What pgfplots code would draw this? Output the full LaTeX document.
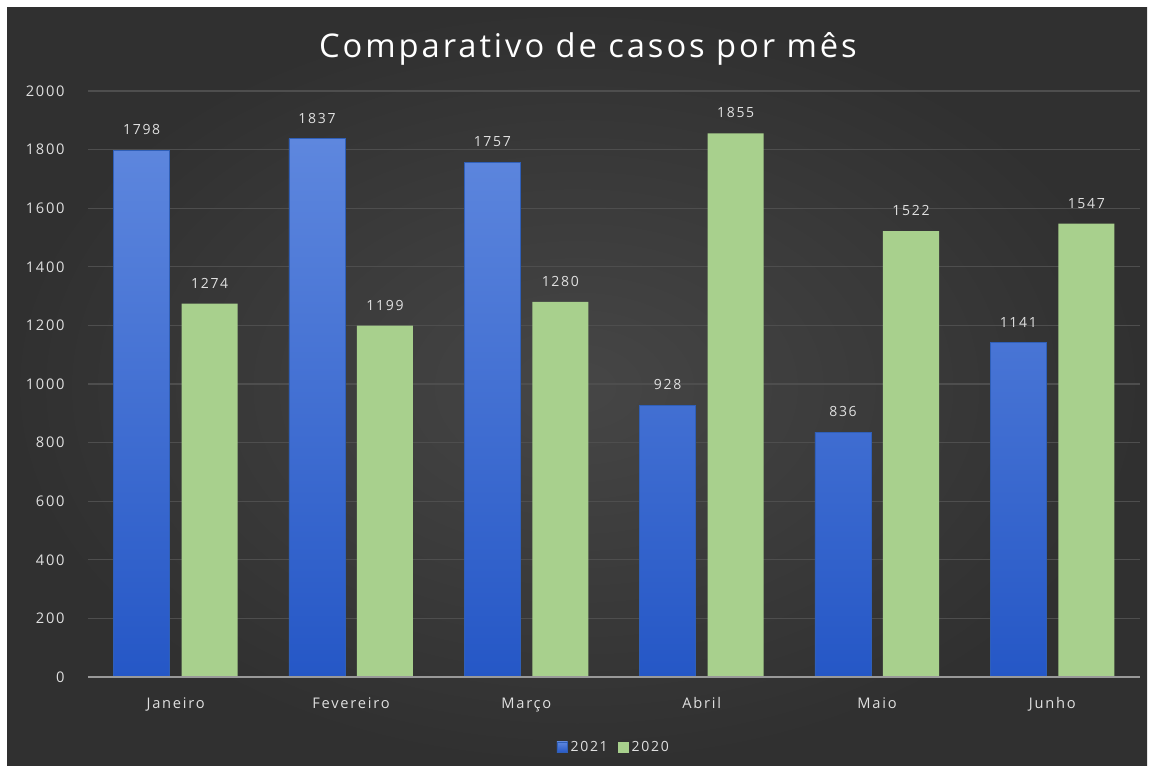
\documentclass[border=0pt]{standalone}
\usepackage{pgfplots}
\pgfplotsset{compat=1.18}
\usepackage{fontspec}
\setmainfont{Open Sans}
\newfontfamily\titlefont[LetterSpace=9]{Open Sans}
\newfontfamily\tickfont[LetterSpace=12]{Open Sans}
\definecolor{bgin}{HTML}{464646}
\definecolor{bgout}{HTML}{303030}
\definecolor{bluetop}{HTML}{5E87DE}
\definecolor{bluebot}{HTML}{2557C6}
\definecolor{blueedge}{HTML}{2F5FB8}
\definecolor{greenbar}{HTML}{A8D08D}
\definecolor{txt}{HTML}{E0E0E0}
\definecolor{gridc}{HTML}{4E4E4E}
\begin{document}
\begin{tikzpicture}[x=1pt,y=1pt]
\fill[white] (0,0) rectangle (862.5,574.5);
\shade[inner color=bgin, outer color=bgout] (5.25,0) rectangle (860.25,568.5);
\node[text=white, font=\titlefont\fontsize{24.5}{28}\selectfont] at (441,537.5) {Comparativo de casos por mês};
\begin{axis}[
  at={(66pt,66.75pt)}, anchor=south west,
  scale only axis, width=789pt, height=439.5pt,
  xmin=-0.5, xmax=5.5, ymin=0, ymax=2000,
  ybar, bar width=42pt, ybar=9pt,
  ytick={0,200,...,2000},
  xtick={0,...,5},
  xticklabels={Janeiro,Fevereiro,Março,Abril,Maio,Junho},
  axis line style={draw=none},
  ymajorgrids, grid style={gridc, line width=0.8pt},
  major tick length=0pt,
  tick label style={text=txt, font=\tickfont\fontsize{11}{13}\selectfont},
  /pgf/number format/assume math mode=true,
  /pgf/number format/1000 sep={},
  yticklabel style={xshift=-14pt},
  xticklabel style={yshift=-12pt},
  nodes near coords,
  nodes near coords style={text=txt, font=\tickfont\fontsize{10.5}{12}\selectfont, yshift=8pt,
    /pgf/number format/assume math mode=true, /pgf/number format/1000 sep={}},
  legend style={at={(0.5,-0.1)}, anchor=north, draw=none, fill=none, text=txt,
    font=\tickfont\fontsize{10.5}{12}\selectfont, legend columns=2,
    /tikz/every even column/.append style={column sep=6pt}},
  legend image code/.code={\fill[#1] (0pt,-4pt) rectangle (8pt,4pt);},
  clip=false,
]
\addplot[draw=blueedge, line width=0.6pt, top color=bluetop, bottom color=bluebot] coordinates {(0,1798) (1,1837) (2,1757) (3,928) (4,836) (5,1141)};
\addplot[draw=none, fill=greenbar] coordinates {(0,1274) (1,1199) (2,1280) (3,1855) (4,1522) (5,1547)};
\legend{2021,2020}
\draw[color=gray!80!white, line width=1pt] (axis cs:-0.5,0) -- (axis cs:5.5,0);
\end{axis}
\end{tikzpicture}
\end{document}
